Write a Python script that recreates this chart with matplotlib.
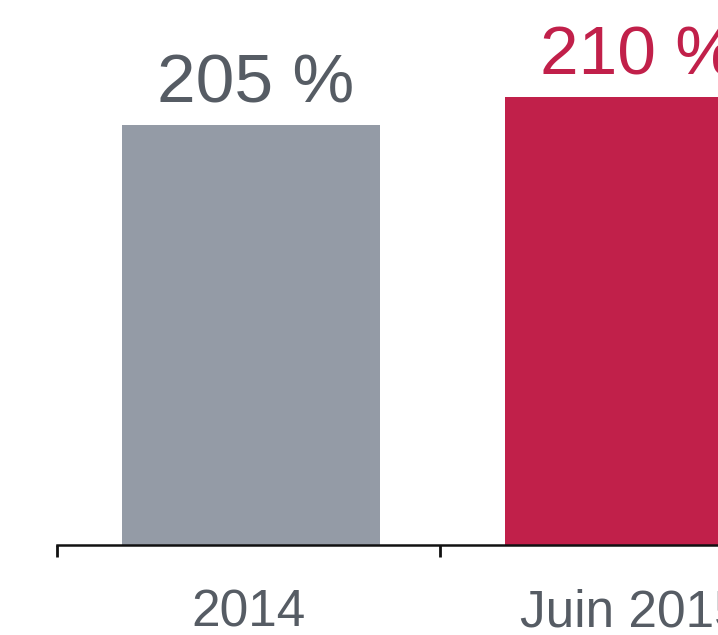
import matplotlib.pyplot as plt

plt.rcParams['font.family'] = ['Liberation Sans', 'DejaVu Sans']

categories = ['2014', 'Juin 2015']
values = [205, 210]
labels = ['205 %', '210 %']
bar_colors = ['#949ba6', '#c1204a']
text_colors = ['#565c64', '#c1204a']

fig = plt.figure(figsize=(7.18, 6.35), dpi=100)
# chart is cropped on the right: axes run past the figure edge
ax = fig.add_axes([57 / 718, 90 / 635, 766 / 718, 560 / 635])

x = list(range(len(categories)))
bx = [i + 0.007 for i in x]  # bars sit a hair right of the category centre
ax.bar(bx, values, width=0.674, color=bar_colors, zorder=1)
ax.set_xlim(-0.5, len(categories) - 0.5)
ax.set_ylim(130, 230)

for xi, v, lab, c in zip(bx, values, labels, text_colors):
    ax.annotate(lab, (xi, v), xytext=(3.5, 16.5), textcoords='offset points',
                ha='center', va='baseline', fontsize=50, color=c)

for s in ['top', 'right', 'left']:
    ax.spines[s].set_visible(False)
ax.spines['bottom'].set_linewidth(1.8)
ax.spines['bottom'].set_color('#111111')
ax.spines['bottom'].set_zorder(3)

ax.set_yticks([])
ax.set_xticks([i - 0.5 for i in range(len(categories) + 1)])
ax.set_xticklabels([])
ax.tick_params(axis='x', which='major', length=8.5, width=2, color='#111111')
ax.set_xticks(x, minor=True)
ax.set_xticklabels(categories, minor=True)
ax.tick_params(axis='x', which='minor', length=0, pad=31, labelsize=37,
               labelcolor='#565c64')

fig.savefig('out.png', dpi=100)
